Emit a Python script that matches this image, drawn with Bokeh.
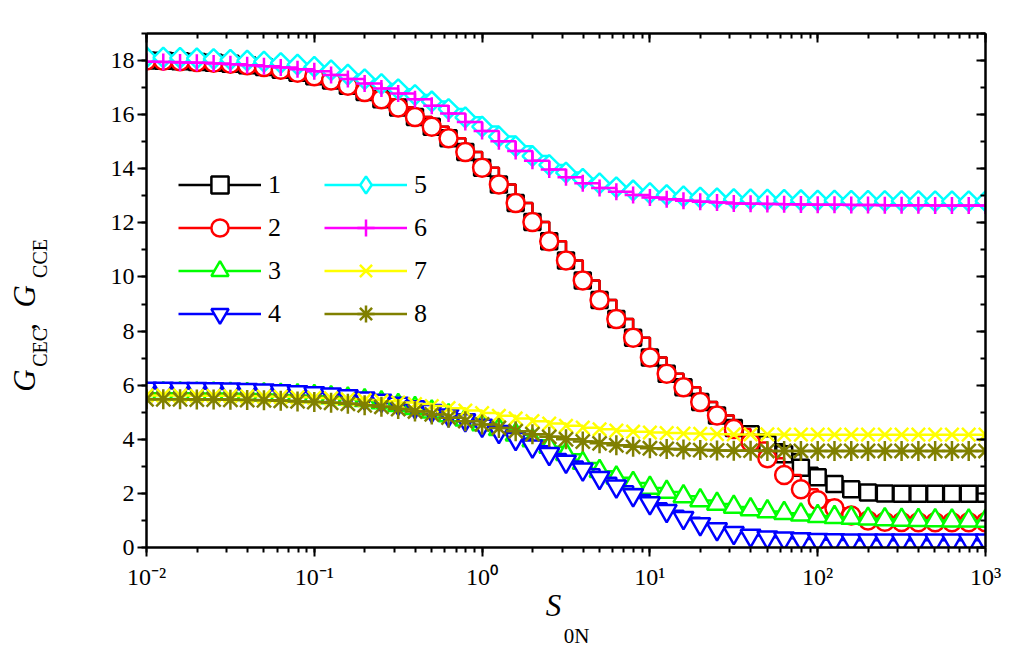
import numpy as np
from bokeh.plotting import figure
from bokeh.models import (Range1d, LogAxis, LinearAxis, SingleIntervalTicker, LogTicker,
                          CustomJSTickFormatter, Legend, LegendItem, Label)
from bokeh.embed import file_html
from bokeh.resources import INLINE

# ---------------- data ----------------
s0n = [0.01, 0.01259, 0.01585, 0.01995, 0.02512, 0.03162, 0.03981, 0.05012, 0.0631, 0.07943,
       0.1, 0.1259, 0.1585, 0.1995, 0.2512, 0.3162, 0.3981, 0.5012, 0.631, 0.7943,
       1.0, 1.259, 1.585, 1.995, 2.512, 3.162, 3.981, 5.012, 6.31, 7.943,
       10.0, 12.59, 15.85, 19.95, 25.12, 31.62, 39.81, 50.12, 63.1, 79.43,
       100.0, 125.9, 158.5, 199.5, 251.2, 316.2, 398.1, 501.2, 631.0, 794.3, 1000.0]

g1 = [18.00, 17.99, 17.97, 17.95, 17.92, 17.88, 17.83, 17.76, 17.66, 17.55,
      17.42, 17.26, 17.07, 16.84, 16.57, 16.26, 15.91, 15.55, 15.13, 14.62,
      14.04, 13.42, 12.73, 12.03, 11.32, 10.61, 9.87, 9.15, 8.45, 7.75,
      7.02, 6.42, 5.92, 5.38, 4.88, 4.42, 4.19, 3.82, 3.45, 2.95,
      2.60, 2.35, 2.15, 2.03, 2.00, 1.99, 1.99, 1.99, 1.99, 1.99, 1.99]

g2 = [18.00, 17.99, 17.97, 17.95, 17.92, 17.88, 17.83, 17.76, 17.66, 17.55,
      17.42, 17.26, 17.07, 16.84, 16.57, 16.26, 15.91, 15.55, 15.13, 14.62,
      14.04, 13.42, 12.73, 12.03, 11.32, 10.61, 9.87, 9.15, 8.45, 7.75,
      7.02, 6.42, 5.92, 5.38, 4.88, 4.38, 3.88, 3.30, 2.68, 2.15,
      1.75, 1.45, 1.18, 1.00, 0.95, 0.94, 0.93, 0.93, 0.93, 0.93, 0.93]

g3 = [5.70, 5.70, 5.70, 5.69, 5.69, 5.68, 5.67, 5.66, 5.64, 5.62,
      5.59, 5.55, 5.50, 5.44, 5.36, 5.26, 5.15, 5.02, 4.88, 4.72,
      4.55, 4.37, 4.17, 3.96, 3.72, 3.45, 3.12, 2.82, 2.58, 2.38,
      2.20, 2.05, 1.89, 1.74, 1.61, 1.50, 1.41, 1.33, 1.27, 1.21,
      1.16, 1.12, 1.09, 1.06, 1.04, 1.02, 1.01, 1.00, 0.99, 0.99, 0.98]

g4 = [5.88, 5.88, 5.87, 5.87, 5.86, 5.85, 5.83, 5.81, 5.78, 5.75,
      5.71, 5.66, 5.60, 5.52, 5.43, 5.32, 5.19, 5.05, 4.89, 4.71,
      4.51, 4.28, 4.02, 3.74, 3.46, 3.18, 2.89, 2.58, 2.26, 1.94,
      1.64, 1.36, 1.10, 0.87, 0.68, 0.54, 0.44, 0.38, 0.34, 0.31,
      0.29, 0.28, 0.27, 0.27, 0.27, 0.27, 0.27, 0.27, 0.27, 0.27, 0.27]

g5 = [18.12, 18.11, 18.10, 18.08, 18.06, 18.03, 18.00, 17.96, 17.91, 17.85,
      17.77, 17.64, 17.48, 17.31, 17.13, 16.94, 16.73, 16.49, 16.21, 15.90,
      15.56, 15.19, 14.83, 14.47, 14.14, 13.86, 13.63, 13.46, 13.32, 13.20,
      13.10, 13.03, 12.98, 12.94, 12.91, 12.88, 12.87, 12.86, 12.85, 12.84,
      12.83, 12.83, 12.82, 12.82, 12.81, 12.81, 12.81, 12.80, 12.80, 12.80, 12.80]

g6 = [17.96, 17.95, 17.93, 17.92, 17.89, 17.86, 17.83, 17.79, 17.74, 17.68,
      17.60, 17.47, 17.32, 17.15, 16.97, 16.78, 16.57, 16.33, 16.04, 15.73,
      15.40, 15.02, 14.66, 14.30, 13.97, 13.69, 13.46, 13.29, 13.15, 13.03,
      12.94, 12.87, 12.82, 12.78, 12.75, 12.72, 12.71, 12.70, 12.69, 12.68,
      12.67, 12.67, 12.66, 12.66, 12.65, 12.65, 12.65, 12.64, 12.64, 12.64, 12.64]

g7 = [5.62, 5.62, 5.62, 5.61, 5.61, 5.60, 5.59, 5.58, 5.57, 5.55,
      5.53, 5.51, 5.48, 5.45, 5.41, 5.36, 5.30, 5.23, 5.15, 5.06,
      4.97, 4.87, 4.77, 4.67, 4.58, 4.50, 4.43, 4.37, 4.32, 4.28,
      4.25, 4.23, 4.21, 4.20, 4.19, 4.18, 4.18, 4.18, 4.17, 4.17,
      4.17, 4.17, 4.17, 4.17, 4.17, 4.17, 4.17, 4.17, 4.17, 4.17, 4.17]

g8 = [5.48, 5.48, 5.48, 5.47, 5.47, 5.46, 5.45, 5.44, 5.42, 5.40,
      5.38, 5.35, 5.31, 5.26, 5.20, 5.12, 5.03, 4.92, 4.80, 4.67,
      4.55, 4.42, 4.30, 4.19, 4.09, 4.00, 3.92, 3.85, 3.78, 3.72,
      3.67, 3.64, 3.62, 3.60, 3.59, 3.58, 3.58, 3.57, 3.57, 3.57,
      3.57, 3.57, 3.57, 3.57, 3.57, 3.57, 3.57, 3.57, 3.57, 3.57, 3.57]

labels = ["1", "2", "3", "4", "5", "6", "7", "8"]
values = [g1, g2, g3, g4, g5, g6, g7, g8]
colors = ["#000000", "#FF0000", "#00FF00", "#0000FF", "#00FFFF", "#FF00FF", "#FFFF00", "#808000"]
markers = ["square", "circle", "triangle", "inverted_triangle", "square", "cross", "x", "asterisk"]
legend_markers = ["square", "circle", "triangle", "inverted_triangle", "diamond", "cross", "x", "asterisk"]
msizes = [16, 18, 20, 20, 14, 17, 19, 20]
mangles = [0, 0, 0, 0, np.pi / 4, 0, 0, 0]

FONT = "Liberation Serif"
NB = "\u00A0"

# frame geometry (page px) used to place the axis titles
FL, FR, FT, FB = 146, 985, 33, 546.5
X0, X1, Y0, Y1 = 0.01, 1000.0, 0.0, 19.0

def to_data(px, py):
    lx = np.log10(X0) + (px - FL) / (FR - FL) * (np.log10(X1) - np.log10(X0))
    return float(10 ** lx), float(Y0 + (FB - py) / (FB - FT) * (Y1 - Y0))

# ---------------- figure ----------------
p = figure(width=1008, height=648, x_axis_type="log",
           x_range=Range1d(X0, X1), y_range=Range1d(Y0, Y1),
           output_backend="svg", toolbar_location=None,
           min_border_left=FL, min_border_right=1008 - FR, min_border_top=FT,
           min_border_bottom=int(648 - FB))
p.grid.visible = False
p.outline_line_color = None
p.background_fill_color = "white"
p.border_fill_color = "white"

xa = p.xaxis[0]
ya = p.yaxis[0]
xa.ticker = LogTicker(num_minor_ticks=10)
xa.formatter = CustomJSTickFormatter(code="""
const e = Math.round(Math.log10(tick));
const sup = {'-':'\u207B','0':'\u2070','1':'\u00B9','2':'\u00B2','3':'\u00B3','4':'\u2074','5':'\u2075','6':'\u2076','7':'\u2077','8':'\u2078','9':'\u2079'};
return '10' + String(e).split('').map(c => sup[c]).join('');
""")
ya.ticker = SingleIntervalTicker(interval=2, num_minor_ticks=2)

for ax in (xa, ya):
    ax.axis_line_width = 2.5
    ax.axis_line_color = "black"
    ax.major_tick_line_width = 2
    ax.minor_tick_line_width = 2
    ax.major_tick_line_color = "black"
    ax.minor_tick_line_color = "black"
    ax.major_tick_out = 9
    ax.major_tick_in = 0
    ax.minor_tick_out = 5
    ax.minor_tick_in = 0
    ax.major_label_text_font = FONT
    ax.major_label_text_font_size = "24px"
    ax.major_label_text_color = "black"
xa.major_label_standoff = 7
ya.major_label_standoff = 3

top = LogAxis(ticker=LogTicker(num_minor_ticks=10),
              formatter=CustomJSTickFormatter(code="return ''"))
right = LinearAxis(ticker=SingleIntervalTicker(interval=2, num_minor_ticks=2),
                   formatter=CustomJSTickFormatter(code="return ''"))
for ax in (top, right):
    ax.axis_line_width = 2.5
    ax.major_tick_line_width = 2
    ax.minor_tick_line_width = 2
    ax.major_tick_in = 9
    ax.major_tick_out = 0
    ax.minor_tick_in = 5
    ax.minor_tick_out = 0
    ax.major_label_text_font_size = "1px"
p.add_layout(top, "above")
p.add_layout(right, "right")

items = []
for lab, ys, c, m, lm, sz, ang in zip(labels, values, colors, markers, legend_markers, msizes, mangles):
    rl = p.step(x=s0n, y=ys, mode="after", line_color=c, line_width=2.5)
    rk = None
    if lm != m:
        # key symbol (diamond) drawn under the first rotated-square marker
        rk = p.scatter(x=s0n[:1], y=ys[:1], marker=lm, size=20, line_color=c,
                       line_width=2.5, fill_color="white")
    rm = p.scatter(x=s0n, y=ys, marker=m, size=sz, angle=ang,
                   line_color=c, line_width=2.5, fill_color="white")
    items.append(LegendItem(label=lab, renderers=[rl, rk if rk is not None else rm]))

for its, loc in ((items[:4], (32, 212)), (items[4:], (178, 212))):
    leg = Legend(items=its, location=loc, glyph_width=83, glyph_height=43, spacing=0,
                 padding=0, margin=0, label_standoff=7,
                 label_text_font=FONT, label_text_font_size="26px", label_text_color="black",
                 background_fill_alpha=0, border_line_alpha=0)
    p.add_layout(leg)

def lbl(px, py, t, size, side, italic=False, angle=0.0, align="center", baseline="middle"):
    x, y = to_data(px, py)
    p.add_layout(Label(x=x, y=y, text=t,
                       text_font=FONT, text_font_size=size,
                       text_font_style="italic" if italic else "normal",
                       text_align=align, text_baseline=baseline, angle=angle,
                       text_color="black"), side)

# y-axis title: G_CEC , G_CCE  (rotated, reads bottom to top)
lbl(24, 391, "G" + NB * 5 + "," + NB * 2 + "G", "31px", "left", True, np.pi / 2, "left", "alphabetic")
lbl(39, 366, "CEC" + NB * 10 + "CCE", "20px", "left", False, np.pi / 2, "left", "alphabetic")
# x-axis title: S_0N
lbl(553, 604, "S", "31px", "below", True)
lbl(576, 635, "0N", "21px", "left")

open("out.html", "w").write(file_html(p, INLINE))
